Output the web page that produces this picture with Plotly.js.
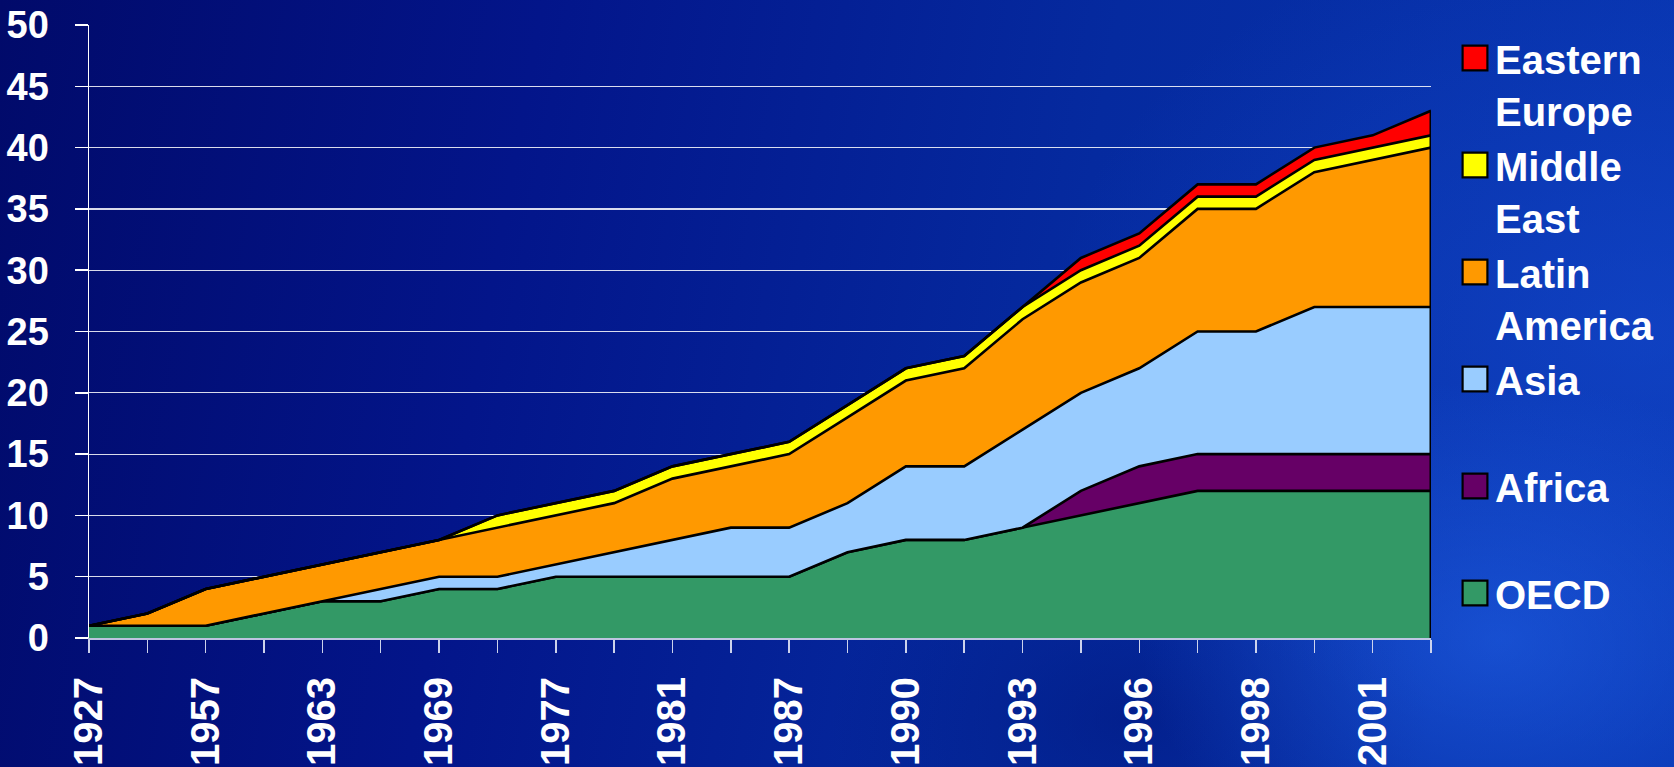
<!DOCTYPE html>
<html>
<head>
<meta charset="utf-8">
<script src="https://cdn.plot.ly/plotly-3.0.1.min.js"></script>
<style>
html,body{margin:0;padding:0;width:1674px;height:767px;overflow:hidden;}
body{
  background:
    radial-gradient(ellipse 360px 260px at 1500px 640px, rgba(35,100,235,0.55), rgba(35,100,235,0) 100%),
    radial-gradient(ellipse 600px 420px at 1650px 330px, rgba(25,80,215,0.45), rgba(25,80,215,0) 100%),
    radial-gradient(ellipse 300px 200px at 1130px 720px, rgba(0,20,120,0.5), rgba(0,20,120,0) 100%),
    linear-gradient(100deg, #010a6a 0%, #03158a 30%, #052a9f 62%, #0836b2 100%);
}
#chart{width:1674px;height:767px;}
</style>
</head>
<body>
<div id="chart"></div>
<script>
// ---- data ----
const categories = ['1927','1950','1957','1960','1963','1966','1969','1973','1977','1979','1981','1984',
                    '1987','1988','1990','1992','1993','1995','1996','1997','1998','2000','2001','2002'];
const labelledYears = ['1927','1957','1963','1969','1977','1981','1987','1990','1993','1996','1998','2001'];
const seriesNames = ['OECD','Africa','Asia','Latin America','Middle East','Eastern Europe'];
const legendLabels = ['OECD<br> ','Africa<br> ','Asia<br> ','Latin<br>America','Middle<br>East','Eastern<br>Europe'];
const oecd          = [1,1,1,2,3,3,4,4,5,5,5,5,5,7,8,8,9,10,11,12,12,12,12,12];
const africa        = [0,0,0,0,0,0,0,0,0,0,0,0,0,0,0,0,0,2,3,3,3,3,3,3];
const asia          = [0,0,0,0,0,1,1,1,1,2,3,4,4,4,6,6,8,8,8,10,10,12,12,12];
const latinAmerica  = [0,1,3,3,3,3,3,4,4,4,5,5,6,7,7,8,9,9,9,10,10,11,12,13];
const middleEast    = [0,0,0,0,0,0,0,1,1,1,1,1,1,1,1,1,1,1,1,1,1,1,1,1];
const easternEurope = [0,0,0,0,0,0,0,0,0,0,0,0,0,0,0,0,0,1,1,1,1,1,1,2];
const yTicks = [0,5,10,15,20,25,30,35,40,45,50];

// ---- styles ----
const colors = ['#339966','#660066','#99CCFF','#FF9900','#FFFF00','#FF0000'];
const allSeries = [oecd, africa, asia, latinAmerica, middleEast, easternEurope];
const FONT = '"Liberation Sans", Arial, sans-serif';

const traces = [];
allSeries.forEach((vals, i) => {
  traces.push({
    type: 'scatter', mode: 'lines', x: categories, y: vals,
    name: seriesNames[i], stackgroup: 'one',
    fillcolor: colors[i], line: {color: '#000000', width: 2.6, shape: 'linear'},
    showlegend: false, hoverinfo: 'skip'
  });
});
// right-hand closing edge of the stacked areas
const last = categories.length - 1;
const lastTotal = allSeries.reduce((s, v) => s + v[last], 0);
traces.push({
  type: 'scatter', mode: 'lines', x: [categories[last], categories[last]], y: [0, lastTotal],
  line: {color: '#000000', width: 3}, showlegend: false, hoverinfo: 'skip'
});
// legend entries
allSeries.forEach((vals, i) => {
  traces.push({
    type: 'scatter', mode: 'markers', x: [null], y: [null],
    name: legendLabels[i],
    marker: {symbol: 'square', size: 16, color: colors[i], line: {color: '#000000', width: 1.4}},
    showlegend: true, hoverinfo: 'skip'
  });
});

const tickText = categories.map(c => labelledYears.includes(c) ? c : '');

const layout = {
  width: 1674, height: 767,
  margin: {l: 89, r: 243, t: 25, b: 129, pad: 0},
  paper_bgcolor: 'rgba(0,0,0,0)', plot_bgcolor: 'rgba(0,0,0,0)',
  font: {family: FONT, color: '#ffffff'},
  showlegend: true,
  legend: {
    xref: 'container', yref: 'container',
    x: 1455/1674, y: 1 - 25.5/767, xanchor: 'left', yanchor: 'top',
    traceorder: 'reversed', valign: 'top', maxheight: 760,
    font: {family: FONT, size: 40, color: '#ffffff', weight: 'bold'},
    bgcolor: 'rgba(0,0,0,0)', borderwidth: 0, tracegroupgap: 0
  },
  xaxis: {
    type: 'category', range: [0, last],
    tickmode: 'array', tickvals: categories, ticktext: tickText,
    tickangle: -90,
    tickfont: {family: FONT, size: 40, color: '#ffffff', weight: 'bold'},
    ticks: 'outside', ticklen: 13, tickwidth: 1.5, tickcolor: 'rgba(215,220,240,0.95)',
    ticklabelstandoff: 8,
    showline: true, linecolor: 'rgba(200,205,230,0.95)', linewidth: 2,
    showgrid: false, zeroline: false, fixedrange: true
  },
  yaxis: {
    range: [0, 50], tickmode: 'array', tickvals: yTicks,
    tickfont: {family: FONT, size: 38, color: '#ffffff', weight: 'bold'},
    ticks: 'outside', ticklen: 13, tickwidth: 1.5, tickcolor: '#ffffff',
    ticklabelstandoff: 18,
    showline: true, linecolor: '#ffffff', linewidth: 1.5,
    showgrid: true, gridcolor: 'rgba(255,255,255,0.85)', gridwidth: 1.2,
    zeroline: false, fixedrange: true
  }
};

Plotly.newPlot('chart', traces, layout, {staticPlot: true, displayModeBar: false}).then(gd => {
  gd.querySelectorAll('.legend .legendpoints path.scatterpts').forEach(p => {
    const t = p.getAttribute('transform') || '';
    p.setAttribute('transform', t + ' scale(1.55)');
  });
});
</script>
</body>
</html>
